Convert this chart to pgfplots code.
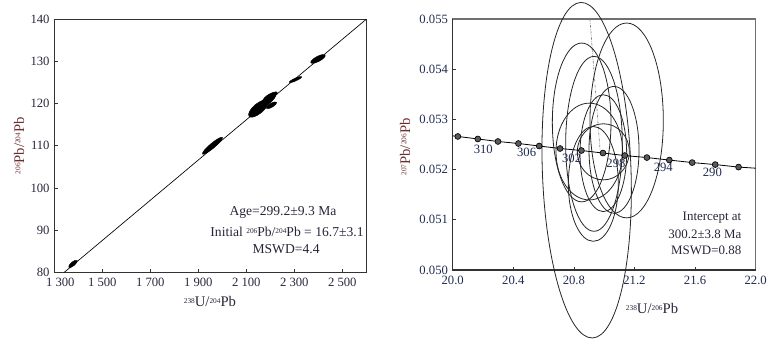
\documentclass[border=0pt]{standalone}
\usepackage{fontspec}
\setmainfont{Liberation Serif}
\usepackage{pgfplots}
\usepackage{pgfplotstable}
\pgfplotsset{compat=1.18}

\definecolor{ticklab}{HTML}{26263A}
\definecolor{tickblue}{HTML}{1F2A50}
\definecolor{ylab}{HTML}{6B2E2E}
\definecolor{frame}{HTML}{333333}
\definecolor{framegray}{HTML}{707070}
\definecolor{markgray}{HTML}{5A5A5A}

\newcommand\iso[1]{\raisebox{0.55ex}{\fontsize{5.5}{6}\selectfont #1}}

% error ellipses: centre (data), half axes, rotation (deg)
\pgfplotstableread{
cx   cy     rx    ry    rot
1378 82.0   4.1   1.5   40
1959 110.0  9.75  1.9   40
2150 118.8  9.0   3.75  40
2180 120.3  9.75  2.6   38
2200 121.7  6.0   1.9   30
2205 119.6  4.5   1.5   30
2305 125.7  5.1   1.05  24
2399 130.6  6.1   1.95  28
}\ellL

\pgfplotstableread{
cx      cy        rx      ry        rot
20.8845 0.051988  0.2926  0.003344  2
21.1485 0.052979  0.2420  0.001941  0
20.8515 0.052939  0.1936  0.001582  0
20.9329 0.052513  0.1870  0.001742  0
21.0650 0.052394  0.1650  0.001263  0
20.9945 0.052327  0.1540  0.001164  0
20.9020 0.052360  0.2200  0.000964  0
20.9285 0.051715  0.1650  0.001144  0
20.9945 0.052354  0.1716  0.000559  0
}\ellR

\pgfplotstableread{
x      y
20.000 0.052673
20.034 0.05266
20.166 0.05261
20.299 0.05256
20.434 0.05252
20.571 0.05247
20.709 0.05242
20.850 0.05238
20.992 0.05233
21.136 0.05228
21.282 0.05224
21.430 0.05219
21.581 0.05214
21.733 0.05210
21.887 0.05205
22.000 0.052028
}\conc

\newcommand\drawellipses[3]{%
  \pgfplotstablegetrowsof{#1}%
  \pgfmathtruncatemacro\nell{\pgfplotsretval-1}%
  \pgfplotsforeachungrouped \k in {0,...,\nell}{%
    \pgfplotstablegetelem{\k}{cx}\of{#1}\let\ecx\pgfplotsretval
    \pgfplotstablegetelem{\k}{cy}\of{#1}\let\ecy\pgfplotsretval
    \pgfplotstablegetelem{\k}{rx}\of{#1}\let\erx\pgfplotsretval
    \pgfplotstablegetelem{\k}{ry}\of{#1}\let\ery\pgfplotsretval
    \pgfplotstablegetelem{\k}{rot}\of{#1}\let\erot\pgfplotsretval
    \edef\doell{\noexpand\draw[#2] (axis cs:\ecx,\ecy) ellipse [x radius=\erx#3, y radius=\ery#3, rotate=\erot];}%
    \doell
  }%
}

\begin{document}
\begin{tikzpicture}
\begin{axis}[
    at={(40.7pt,55.3pt)}, anchor=south west,
    scale only axis, width=234pt, height=189.75pt,
    xmin=1300, xmax=2600, ymin=80, ymax=140,
    xtick={1300,1500,1700,1900,2100,2300,2500},
    xticklabels={\hspace*{9pt}1 300,1 500,1 700,1 900,2 100,2 300,2 500},
    ytick={80,90,100,110,120,130,140},
    yticklabels={80,90,100,110,120,130,140},
    tick align=inside, xtick pos=left, ytick pos=left,
    major tick length=2.5pt,
    tick style={frame, line width=0.5pt},
    tick label style={font=\fontsize{9.5}{10}\selectfont, text=ticklab},
    xticklabel style={yshift=-1pt},
    axis line style={draw=frame, line width=0.7pt},
    xlabel={\iso{238}U/\iso{204}Pb},
    ylabel={\iso{206}Pb/\iso{204}Pb},
    xlabel style={font=\fontsize{11}{12}\selectfont, text=ticklab, at={(axis description cs:0.499,-0.117)}, anchor=center},
    ylabel style={font=\fontsize{11}{12}\selectfont, text=ylab, at={(axis description cs:-0.113,0.5)}, anchor=center},
]
\drawellipses{\ellL}{fill=black, draw=black, line width=0.3pt}{pt}
\addplot[black, line width=0.5pt] coordinates {(1342,80) (2600,140)};
\begin{scope}[every node/.style={font=\fontsize{10.2}{11}\selectfont, text=ticklab}]
\node at (axis description cs:0.733,0.238) {Age=299.2±9.3 Ma};
\node at (axis description cs:0.746,0.159) {Initial \iso{206}Pb/\iso{204}Pb = 16.7±3.1};
\node at (axis description cs:0.743,0.092) {MSWD=4.4};
\end{scope}
\end{axis}

\begin{axis}[
    at={(339.5pt,57pt)}, anchor=south west,
    scale only axis, width=227.25pt, height=188.25pt,
    xmin=20, xmax=22, ymin=0.050, ymax=0.055,
    clip=false, scaled y ticks=false, scaled x ticks=false,
    xtick={20.0,20.4,20.8,21.2,21.6,22.0},
    xticklabels={20.0,20.4,20.8,21.2,21.6,22.0},
    ytick={0.050,0.051,0.052,0.053,0.054,0.055},
    yticklabels={0.050,0.051,0.052,0.053,0.054,0.055},
    tick align=inside, xtick pos=left, ytick pos=left,
    major tick length=2.5pt,
    tick style={frame, line width=0.5pt},
    tick label style={font=\fontsize{9.5}{10}\selectfont, text=tickblue},
    xticklabel style={yshift=-1pt},
    axis line style={draw=framegray, line width=0.8pt},
    xlabel={\iso{238}U/\iso{206}Pb},
    ylabel={\iso{207}Pb/\iso{206}Pb},
    xlabel style={font=\fontsize{11}{12}\selectfont, text=ticklab, at={(axis description cs:0.658,-0.155)}, anchor=center},
    ylabel style={font=\fontsize{11}{12}\selectfont, text=ylab, at={(axis description cs:-0.157,0.49)}, anchor=center},
]
\draw[frame, line width=0.8pt] (rel axis cs:0,1) -- (rel axis cs:0,0) -- (rel axis cs:1,0);
\addplot[gray, line width=0.5pt, dash pattern=on 2pt off 1pt on 0.5pt off 1pt] coordinates {(20.906,0.055) (20.973,0.052394)};
\drawellipses{\ellR}{draw=black!85, line width=0.6pt}{}
\addplot[black, line width=0.6pt] table[x=x, y=y] {\conc};
\addplot[only marks, mark=*, mark size=2.2pt, mark options={fill=markgray, draw=black, line width=0.5pt}]
    table[x=x, y=y, skip coords between index={0}{1}, skip coords between index={15}{16}] {\conc};
\begin{scope}[every node/.style={font=\fontsize{9.5}{10}\selectfont, text=tickblue}]
\node at (axis cs:20.202,0.05241) {310};
\node at (axis cs:20.488,0.052337) {306};
\node at (axis cs:20.785,0.052218) {302};
\node at (axis cs:21.078,0.052125) {298};
\node at (axis cs:21.390,0.052045) {294};
\node at (axis cs:21.714,0.051938) {290};
\end{scope}
\begin{scope}[every node/.style={font=\fontsize{9.7}{11}\selectfont, text=ticklab, anchor=east}]
\node at (axis description cs:0.968,0.207) {Intercept at};
\node at (axis description cs:0.968,0.143) {300.2±3.8 Ma};
\node at (axis description cs:0.968,0.080) {MSWD=0.88};
\end{scope}
\end{axis}
\pgfresetboundingbox
\useasboundingbox (0,0) rectangle (582pt,259.5pt);
\end{tikzpicture}
\end{document}
